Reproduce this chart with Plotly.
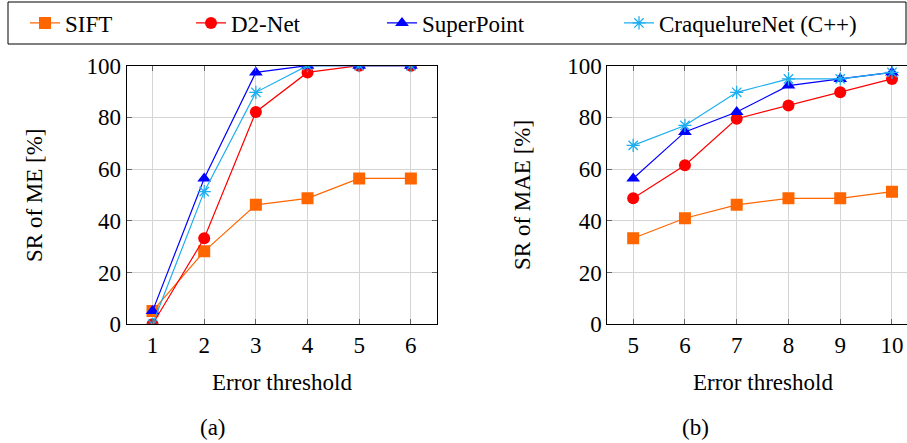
import plotly.graph_objects as go

# ---- data ----
thr_me = [1, 2, 3, 4, 5, 6]
thr_mae = [5, 6, 7, 8, 9, 10]

sift_me = [5.1, 28.2, 46.2, 48.7, 56.4, 56.4]
d2net_me = [0.0, 33.3, 82.1, 97.4, 100.0, 100.0]
superpoint_me = [5.1, 56.4, 97.4, 100.0, 100.0, 100.0]
craq_me = [0.0, 51.3, 89.7, 100.0, 100.0, 100.0]

sift_mae = [33.3, 41.0, 46.2, 48.7, 48.7, 51.3]
d2net_mae = [48.7, 61.5, 79.5, 84.6, 89.7, 94.9]
superpoint_mae = [56.4, 74.4, 82.1, 92.3, 94.9, 97.4]
craq_mae = [69.2, 76.9, 89.7, 94.9, 94.9, 97.4]

series_names = ["SIFT", "D2-Net", "SuperPoint", "CraquelureNet (C++)"]
y_ticks = [0, 20, 40, 60, 80, 100]

# ---- styles ----
FONT = "'Liberation Serif', 'Times New Roman', serif"
FS = 23
styles = [
    dict(color="#FF6600", symbol="square", size=12),
    dict(color="#FF0000", symbol="circle", size=12),
    dict(color="#0000FF", symbol="triangle-up", size=12),
    dict(color="#1EAEF0", symbol="asterisk-open", size=11),
]
legend_ids = ["legend", "legend2", "legend3", "legend4"]
legend_text_x = [66, 232, 423, 660]   # pixel x where each legend label starts

W, H = 907, 443
def px(x):
    return x / W
def py(y):
    return 1 - y / H

fig = go.Figure()
me_data = [sift_me, d2net_me, superpoint_me, craq_me]
mae_data = [sift_mae, d2net_mae, superpoint_mae, craq_mae]

for i, (name, st) in enumerate(zip(series_names, styles)):
    marker = dict(symbol=st["symbol"], size=st["size"], color=st["color"])
    if "asterisk" in st["symbol"]:
        marker["line"] = dict(color=st["color"], width=1.3)
    else:
        marker["line"] = dict(width=0)
    fig.add_trace(go.Scatter(
        x=thr_me, y=me_data[i], name=name, mode="lines+markers",
        line=dict(color=st["color"], width=1.2), marker=marker,
        xaxis="x", yaxis="y", legend=legend_ids[i], showlegend=True))
    fig.add_trace(go.Scatter(
        x=thr_mae, y=mae_data[i], name=name, mode="lines+markers",
        line=dict(color=st["color"], width=1.2), marker=marker,
        xaxis="x2", yaxis="y2", showlegend=False))

axis_common = dict(
    showline=True, linecolor="black", linewidth=1,
    showgrid=True, gridcolor="#d4d4d4", gridwidth=1,
    zeroline=False, ticks="inside", ticklen=5, tickcolor="#666",
    automargin=False,
    tickfont=dict(family=FONT, size=FS, color="black"),
)

legends = {}
for i, lid in enumerate(legend_ids):
    legends[lid] = dict(
        orientation="h", x=px(legend_text_x[i] - 41), y=py(23),
        xanchor="left", yanchor="middle", bgcolor="rgba(0,0,0,0)",
        borderwidth=0, font=dict(family=FONT, size=FS, color="black"))

fig.update_layout(
    width=W, height=H,
    margin=dict(l=0, r=0, t=0, b=0, autoexpand=False),
    paper_bgcolor="white", plot_bgcolor="white",
    font=dict(family=FONT, size=FS, color="black"),
    xaxis=dict(domain=[px(126.7), px(436.7)], range=[0.5, 6.5],
               tickvals=thr_me, mirror="ticks", anchor="y", **axis_common),
    yaxis=dict(domain=[py(324.3), py(65.7)], range=[0, 100],
               tickvals=y_ticks, mirror="ticks", anchor="x", **axis_common),
    xaxis2=dict(domain=[px(607.3), 1.0], range=[4.5, 10.29],
                tickvals=thr_mae, mirror="ticks", anchor="y2", **axis_common),
    yaxis2=dict(domain=[py(324.3), py(65.7)], range=[0, 100],
                tickvals=y_ticks, mirror=False, anchor="x2", **axis_common),
    shapes=[dict(type="rect", xref="paper", yref="paper",
                 x0=px(8), x1=px(906), y0=py(44), y1=py(2),
                 line=dict(color="black", width=1), fillcolor="rgba(0,0,0,0)",
                 layer="below")],
    annotations=[
        dict(text="Error threshold", x=px(281.7), y=py(382), xref="paper", yref="paper",
             showarrow=False, xanchor="center", yanchor="middle"),
        dict(text="(a)", x=px(213), y=py(427), xref="paper", yref="paper",
             showarrow=False, xanchor="center", yanchor="middle"),
        dict(text="Error threshold", x=px(763), y=py(382), xref="paper", yref="paper",
             showarrow=False, xanchor="center", yanchor="middle"),
        dict(text="(b)", x=px(695), y=py(427), xref="paper", yref="paper",
             showarrow=False, xanchor="center", yanchor="middle"),
        dict(text="SR of ME [%]", x=px(34), y=py(195), xref="paper", yref="paper",
             showarrow=False, textangle=-90, xanchor="center", yanchor="middle"),
        dict(text="SR of MAE [%]", x=px(522), y=py(195), xref="paper", yref="paper",
             showarrow=False, textangle=-90, xanchor="center", yanchor="middle"),
    ],
    **legends,
)

fig.write_html("out.html",
               config={"displayModeBar": False},
               post_script="document.body.style.margin='0px';"
                           "document.body.style.overflow='hidden';")
